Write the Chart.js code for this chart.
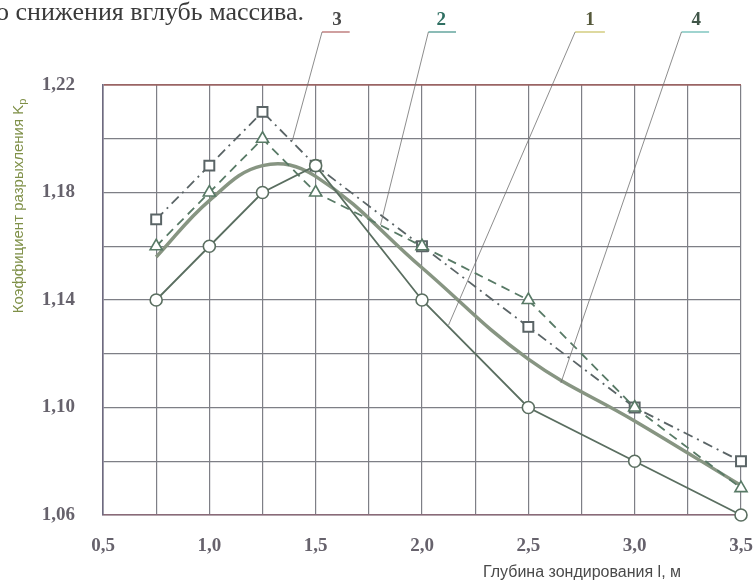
<!DOCTYPE html>
<html>
<head>
<meta charset="utf-8">
<script src="https://cdn.jsdelivr.net/npm/chart.js@4.4.1/dist/chart.umd.min.js"></script>
<style>
  html, body { margin: 0; padding: 0; background: #fff; }
  #c { display: block; }
</style>
</head>
<body>
<canvas id="c" width="756" height="582"></canvas>
<script>
// depth of probing, m
const depths = [0.75, 1.0, 1.25, 1.5, 2.0, 2.5, 3.0, 3.5];

// loosening coefficient for each curve
const curve1 = [1.14, 1.16, 1.18, 1.19, 1.14, 1.10, 1.08, 1.06];
const curve2 = [1.16, 1.18, 1.20, 1.18, 1.16, 1.14, 1.10, 1.07];
const curve3 = [1.17, 1.19, 1.21, 1.19, 1.16, 1.13, 1.10, 1.08];
const curve4 = [1.156, 1.177, 1.19, 1.186, 1.152, 1.118, 1.095, 1.071];

const curveNames = ['1', '2', '3', '4'];

const xTitle = 'Глубина зондирования l, м';
const yTitle = 'Коэффициент разрыхления K';
const topText = 'о снижения вглубь массива.';

// callouts: label x, underline from/to, end point of leader line (data units)
const callouts = [
    { name: '3', color: '#4a4a4a', under: '#b06060', lx: 1.60, u0: 1.53, u1: 1.66, ex: 1.39, ey: 1.1992 },
    { name: '2', color: '#2f6f62', under: '#3f8f86', lx: 2.09, u0: 2.03, u1: 2.16, ex: 1.805, ey: 1.1679 },
    { name: '1', color: '#55583a', under: '#c8c060', lx: 2.79, u0: 2.72, u1: 2.86, ex: 2.125, ey: 1.1307 },
    { name: '4', color: '#3f5548', under: '#60b8b0', lx: 3.29, u0: 3.22, u1: 3.35, ex: 2.653, ey: 1.1091 }
];

function toPoints(ys)
{
    return ys.map((y, i) => ({ x: depths[i], y: y }));
}

function fmt(v, digits)
{
    return v.toFixed(digits).replace('.', ',');
}

const extras = {
    id: 'extras',
    afterDraw(chart) {
        const ctx = chart.ctx;
        const xs = chart.scales.x;
        const ys = chart.scales.y;
        ctx.save();

        // caption fragment at top
        ctx.fillStyle = '#3a3a3a';
        ctx.font = '26px "Liberation Serif", serif';
        ctx.textBaseline = 'alphabetic';
        ctx.textAlign = 'left';
        ctx.fillText(topText, -4, 20);

        // callouts with leader lines
        const topY = 32;
        for (const c of callouts) {
            const u0 = xs.getPixelForValue(c.u0);
            const u1 = xs.getPixelForValue(c.u1);
            ctx.strokeStyle = c.under;
            ctx.lineWidth = 1.2;
            ctx.beginPath();
            ctx.moveTo(u0, topY);
            ctx.lineTo(u1, topY);
            ctx.stroke();

            ctx.strokeStyle = '#707070';
            ctx.lineWidth = 0.8;
            ctx.beginPath();
            ctx.moveTo(u0, topY);
            ctx.lineTo(xs.getPixelForValue(c.ex), ys.getPixelForValue(c.ey));
            ctx.stroke();

            ctx.fillStyle = c.color;
            ctx.font = 'bold 19px "Liberation Serif", serif';
            ctx.textAlign = 'center';
            ctx.textBaseline = 'middle';
            ctx.fillText(c.name, xs.getPixelForValue(c.lx), 20);
        }

        // y title, rotated
        ctx.save();
        ctx.translate(19, 205);
        ctx.rotate(-Math.PI / 2);
        ctx.fillStyle = '#7f9048';
        ctx.font = '15px "Liberation Sans", sans-serif';
        ctx.textAlign = 'center';
        ctx.textBaseline = 'middle';
        const w = ctx.measureText(yTitle).width;
        ctx.fillText(yTitle, -4, 0);
        ctx.font = '11px "Liberation Sans", sans-serif';
        ctx.textAlign = 'left';
        ctx.fillText('p', w / 2 - 4, 4);
        ctx.restore();

        // x title
        ctx.fillStyle = '#4a4a4a';
        ctx.font = '16px "Liberation Sans", sans-serif';
        ctx.textAlign = 'center';
        ctx.textBaseline = 'middle';
        ctx.fillText(xTitle, 582, 573);

        ctx.restore();
    }
};

const lineColor = '#5a6e60';

new Chart(document.getElementById('c'), {
    type: 'line',
    data: {
        datasets: [
            {
                label: curveNames[0],
                data: toPoints(curve1),
                borderColor: lineColor,
                borderWidth: 1.8,
                pointStyle: 'circle',
                pointRadius: 6,
                pointBorderWidth: 1.6,
                pointBackgroundColor: '#ffffff',
                pointBorderColor: lineColor,
                tension: 0,
                clip: 10
            },
            {
                label: curveNames[1],
                data: toPoints(curve2),
                borderColor: '#587a66',
                borderWidth: 1.8,
                borderDash: [9, 6],
                pointStyle: 'triangle',
                pointRadius: 7,
                pointBorderWidth: 1.6,
                pointBackgroundColor: '#ffffff',
                pointBorderColor: '#587a66',
                tension: 0,
                clip: 10
            },
            {
                label: curveNames[2],
                data: toPoints(curve3),
                borderColor: '#5a6466',
                borderWidth: 1.8,
                borderDash: [10, 5, 2, 5],
                pointStyle: 'rect',
                pointRadius: 7,
                pointBorderWidth: 2,
                pointBackgroundColor: '#ffffff',
                pointBorderColor: '#5a6466',
                tension: 0,
                clip: 10
            },
            {
                label: curveNames[3],
                data: toPoints(curve4),
                borderColor: '#879582',
                borderWidth: 3.5,
                pointRadius: 0,
                tension: 0.4,
                clip: 10
            }
        ]
    },
    options: {
        responsive: false,
        animation: false,
        layout: { padding: { top: 85, right: 0, left: 0, bottom: 0 } },
        plugins: {
            legend: { display: false },
            tooltip: { enabled: false }
        },
        scales: {
            x: {
                type: 'linear',
                min: 0.5,
                max: 3.5,
                afterFit: (s) => { s.height = 67; s.paddingRight = 15; },
                grid: { color: '#7e7f86', lineWidth: 1.2, drawTicks: false },
                border: { color: '#8a6a78', width: 1.6 },
                ticks: {
                    stepSize: 0.25,
                    autoSkip: false,
                    maxRotation: 0,
                    padding: 20,
                    color: '#66626c',
                    font: { family: '"Liberation Serif", serif', size: 19, weight: 'bold' },
                    callback: (v) => Math.abs(v * 2 - Math.round(v * 2)) < 1e-6 ? fmt(v, 1) : ''
                }
            },
            y: {
                min: 1.06,
                max: 1.22,
                afterFit: (s) => { s.width = 103; },
                grid: {
                    color: (c) => c.index === 8 ? '#9a6464' : '#7e7f86',
                    lineWidth: (c) => c.index === 8 ? 1.8 : 1.2,
                    drawTicks: false
                },
                border: { color: '#6e6a80', width: 1.6 },
                ticks: {
                    stepSize: 0.02,
                    autoSkip: false,
                    padding: 28,
                    color: '#66626c',
                    font: { family: '"Liberation Serif", serif', size: 19, weight: 'bold' },
                    callback: (v, i) => i % 2 === 0 ? fmt(v, 2) : ''
                }
            }
        }
    },
    plugins: [extras]
});
</script>
</body>
</html>
